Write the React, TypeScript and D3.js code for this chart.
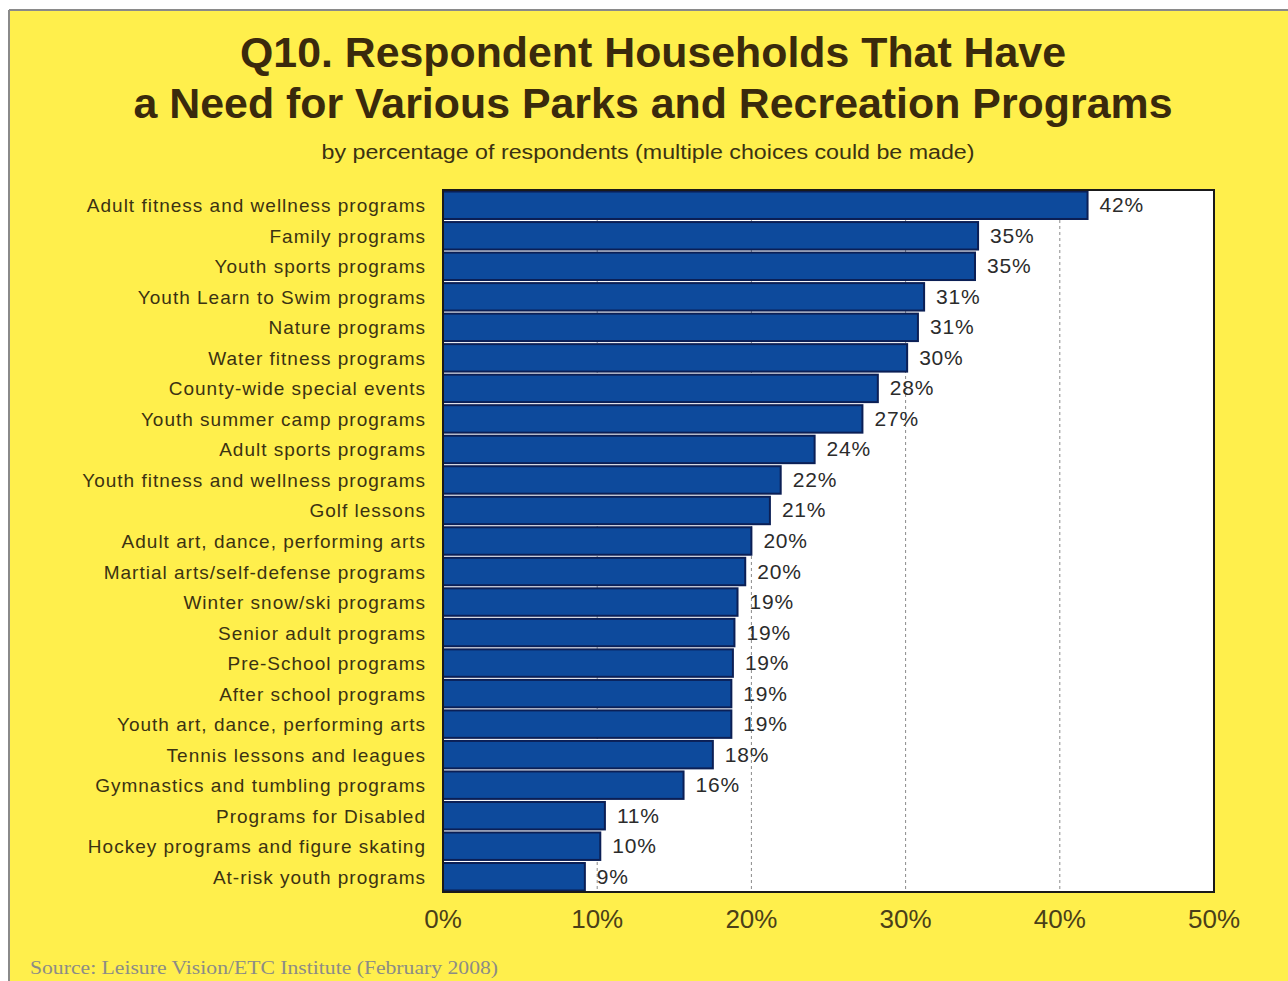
import React from "react";
import * as d3 from "d3";

const categories = [
  "Adult fitness and wellness programs",
  "Family programs",
  "Youth sports programs",
  "Youth Learn to Swim programs",
  "Nature programs",
  "Water fitness programs",
  "County-wide special events",
  "Youth summer camp programs",
  "Adult sports programs",
  "Youth fitness and wellness programs",
  "Golf lessons",
  "Adult art, dance, performing arts",
  "Martial arts/self-defense programs",
  "Winter snow/ski programs",
  "Senior adult programs",
  "Pre-School programs",
  "After school programs",
  "Youth art, dance, performing arts",
  "Tennis lessons and leagues",
  "Gymnastics and tumbling programs",
  "Programs for Disabled",
  "Hockey programs and figure skating",
  "At-risk youth programs",
];

const values = [
  41.8, 34.7, 34.5, 31.2, 30.8, 30.1, 28.2, 27.2, 24.1, 21.9, 21.2, 20.0,
  19.6, 19.1, 18.9, 18.8, 18.7, 18.7, 17.5, 15.6, 10.5, 10.2, 9.2,
];

const ticks = [0, 10, 20, 30, 40, 50];

const titleLines = [
  "Q10. Respondent Households That Have",
  "a Need for Various Parks and Recreation Programs",
];
const titleWidths = [826, 1039];
const subtitle = "by percentage of respondents (multiple choices could be made)";
const source = "Source:  Leisure Vision/ETC Institute (February 2008)";

export default function App() {
  const W = 1288;
  const H = 981;
  const left = 443;
  const right = 1214;
  const top = 190;
  const bottom = 892;

  const x = d3.scaleLinear().domain([0, 50]).range([left, right]);
  const y = d3
    .scaleBand<string>()
    .domain(categories)
    .range([top, bottom])
    .paddingInner(0.1)
    .paddingOuter(0.05);

  const font = "Arial, 'Liberation Sans', Helvetica, sans-serif";
  const textCol = "#3b3212";

  return (
    <svg
      width={W}
      height={H}
      style={{ position: "fixed", left: 0, top: 0, display: "block" }}
    >
      <rect x={0} y={0} width={W} height={H} fill="#ffffff" />
      <rect x={9} y={10} width={W - 9} height={H - 10} fill="#FFEF4C" />
      <line x1={9} y1={10} x2={W} y2={10} stroke="#8a8a8a" strokeWidth={2} />
      <line x1={9} y1={10} x2={9} y2={H} stroke="#8a8a8a" strokeWidth={2} />

      {titleLines.map((t, i) => (
        <text
          key={i}
          x={653}
          y={67 + i * 51}
          textAnchor="middle"
          fontFamily={font}
          fontWeight="bold"
          fontSize={42}
          fill="#3a2a0c"
          textLength={titleWidths[i]}
          lengthAdjust="spacingAndGlyphs"
        >
          {t}
        </text>
      ))}
      <text
        x={648}
        y={159}
        textAnchor="middle"
        fontFamily={font}
        fontSize={20}
        fill={textCol}
        textLength={653}
        lengthAdjust="spacingAndGlyphs"
      >
        {subtitle}
      </text>

      <rect
        x={left}
        y={top}
        width={right - left}
        height={bottom - top}
        fill="#ffffff"
      />
      {ticks.slice(1, -1).map((t) => (
        <line
          key={t}
          x1={x(t)}
          x2={x(t)}
          y1={top}
          y2={bottom}
          stroke="#8a8a8a"
          strokeWidth={1}
          strokeDasharray="3,3"
        />
      ))}

      {categories.map((c, i) => {
        const yy = y(c)!;
        const bh = y.bandwidth();
        return (
          <g key={c}>
            <rect
              x={x(0)}
              y={yy}
              width={x(values[i]) - x(0)}
              height={bh}
              fill="#0D4A9C"
              stroke="#0b1f55"
              strokeWidth={2}
            />
            <text
              x={x(values[i]) + 12}
              y={yy + bh / 2 + 7}
              fontFamily={font}
              fontSize={21}
              letterSpacing={0.8}
              fill="#2b2b2b"
            >
              {Math.round(values[i]) + "%"}
            </text>
            <text
              x={426}
              y={yy + bh / 2 + 7}
              textAnchor="end"
              fontFamily={font}
              fontSize={19}
              letterSpacing={1}
              fill={textCol}
            >
              {c}
            </text>
          </g>
        );
      })}

      <rect
        x={left}
        y={top}
        width={right - left}
        height={bottom - top}
        fill="none"
        stroke="#1a1a1a"
        strokeWidth={2}
      />

      {ticks.map((t) => (
        <text
          key={t}
          x={x(t)}
          y={928}
          textAnchor="middle"
          fontFamily={font}
          fontSize={26}
          fill="#4a3f18"
        >
          {t + "%"}
        </text>
      ))}

      <text
        x={30}
        y={974}
        fontFamily="'Liberation Serif', 'Times New Roman', serif"
        fontSize={18}
        fill="#8c8c86"
        textLength={468}
        lengthAdjust="spacingAndGlyphs"
      >
        {source}
      </text>
    </svg>
  );
}
